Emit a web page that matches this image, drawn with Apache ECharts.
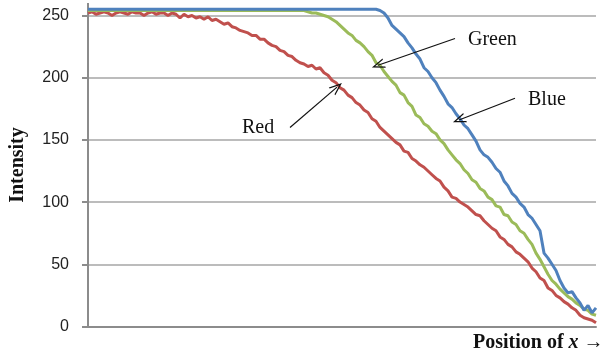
<!DOCTYPE html>
<html><head><meta charset="utf-8">
<script src="https://cdn.jsdelivr.net/npm/echarts@6/dist/echarts.min.js"></script>
<style>html,body{margin:0;padding:0;background:#fff}#c{width:608px;height:354px}</style>
</head><body><div id="c"></div>
<script>
// sample positions along the x profile (index 0..127)
const positions = Array.from({length: 128}, (_, i) => i);
const yTicks = [0, 50, 100, 150, 200, 250];

const red = [252,253,251,252,253,252,250,252,253,252,
 251,253,252,252,250,252,253,251,252,252,
 250,252,251,248,251,249,250,248,249,247,
 249,246,247,245,243,244,241,240,238,237,
 236,234,234,231,231,228,226,225,222,221,
 218,217,214,212,211,209,210,207,208,204,
 202,198,196,192,190,186,184,180,178,174,
 172,167,165,160,157,154,151,148,146,141,
 140,135,133,130,128,125,122,119,117,112,
 109,104,103,100,98,96,93,90,89,85,
 82,79,77,72,70,66,64,60,58,55,
 52,47,44,39,37,31,29,25,23,20,
 18,15,13,9,7,6,5,3];

const green = [254,254,254,254,254,254,254,254,254,254,
 254,254,254,254,254,254,254,254,254,254,
 254,254,254,254,254,254,254,254,254,254,
 254,254,254,254,254,254,254,254,254,254,
 254,254,254,254,254,254,254,254,254,254,
 254,254,254,254,254,
 253,252,252,251,250,249,247,245,242,239,
 236,234,230,228,225,221,218,212,210,205,
 201,197,194,188,186,180,177,170,168,163,
 161,157,155,150,147,142,138,134,131,126,
 123,118,116,111,109,104,102,97,96,90,
 89,84,82,77,75,70,66,59,54,48,
 42,37,34,30,27,24,22,19,17,14,
 13,10,9];

const blue = [255,255,255,255,255,255,255,255,255,255,
 255,255,255,255,255,255,255,255,255,255,
 255,255,255,255,255,255,255,255,255,255,
 255,255,255,255,255,255,255,255,255,255,
 255,255,255,255,255,255,255,255,255,255,
 255,255,255,255,255,255,255,255,255,255,
 255,255,255,255,255,255,255,255,255,255,
 255,255,255,
 254,252,248,242,239,236,233,228,224,219,
 215,208,205,200,196,190,185,179,176,171,
 167,162,159,154,149,142,138,136,132,127,
 124,117,113,107,104,99,96,90,87,82,
 77,59,55,50,45,37,31,27,28,23,
 19,13,17,11,15];

const seriesNames = ['Red', 'Green', 'Blue'];
const seriesColors = ['#c0504d', '#9bbb59', '#4f81bd'];
// arrow annotations in data space: from label toward the curve
const arrowFrom = { Red: [50.5, 160], Green: [91.75, 231.5], Blue: [106.75, 183.5] };
const arrowTo   = { Red: [62.25, 192.4], Green: [72.5, 210], Blue: [92.75, 166] };

const seriesData = { Red: red, Green: green, Blue: blue };
const serif = "'Liberation Serif','Times New Roman',serif";
const chevron = 'path://M0,12 L5,0 L10,12 L8.7,12 L5,3.2 L1.3,12 Z';

const chart = echarts.init(document.getElementById('c'), null, {renderer: 'canvas'});
chart.setOption({
  animation: false,
  backgroundColor: '#fff',
  grid: { left: 88, right: 12, top: 15.5, bottom: 27.5 },
  xAxis: {
    type: 'value', min: 0, max: positions[positions.length - 1],
    axisLine: { show: true, lineStyle: { color: '#8c8c8c', width: 2 } },
    axisTick: { show: false }, axisLabel: { show: false }, splitLine: { show: false }
  },
  yAxis: {
    type: 'value', min: yTicks[0], max: yTicks[yTicks.length - 1], interval: 50,
    axisLine: { show: true, lineStyle: { color: '#8c8c8c', width: 2 } },
    axisTick: { show: true, length: 6, lineStyle: { color: '#8c8c8c', width: 2 } },
    axisLabel: { fontSize: 16, color: '#222', margin: 19, fontFamily: "'Liberation Sans',Arial,sans-serif" },
    splitLine: { show: true, lineStyle: { color: '#a6a6a6', width: 1.5 } }
  },
  series: seriesNames.map((name, k) => ({
    name, type: 'line', symbol: 'none', clip: false,
    data: positions.map((p, i) => [p, seriesData[name][i]]),
    lineStyle: { color: seriesColors[k], width: 3 },
    itemStyle: { color: seriesColors[k] },
    z: 2 + k,
    markLine: {
      silent: true, animation: false,
      symbol: ['none', chevron], symbolSize: [10, 13],
      label: { show: false },
      lineStyle: { color: '#111', width: 1.2, type: 'solid' },
      data: [[{ coord: arrowFrom[name] }, { coord: arrowTo[name] }]]
    }
  })),
  graphic: [
    { type: 'line', shape: { x1: 88, y1: 3, x2: 88, y2: 16 }, style: { stroke: '#8c8c8c', lineWidth: 2 } },
    { type: 'text', x: 468, y: 40, style: { text: 'Green', font: '20px ' + serif, fill: '#111', verticalAlign: 'middle' } },
    { type: 'text', x: 528, y: 100, style: { text: 'Blue', font: '20px ' + serif, fill: '#111', verticalAlign: 'middle' } },
    { type: 'text', x: 242, y: 128, style: { text: 'Red', font: '20px ' + serif, fill: '#111', verticalAlign: 'middle' } },
    { type: 'text', x: 18, y: 165, rotation: Math.PI / 2,
      style: { text: 'Intensity', font: 'bold 20px ' + serif, fill: '#111', align: 'center', verticalAlign: 'middle' } },
    { type: 'text', x: 473, y: 342.5,
      style: {
        text: '{a|Position of }{b|x}{a| →}', verticalAlign: 'middle',
        rich: {
          a: { fontFamily: serif, fontWeight: 'bold', fontSize: 20, fill: '#111' },
          b: { fontFamily: serif, fontWeight: 'bold', fontStyle: 'italic', fontSize: 20, fill: '#111' }
        }
      } }
  ]
});
</script>
</body></html>
